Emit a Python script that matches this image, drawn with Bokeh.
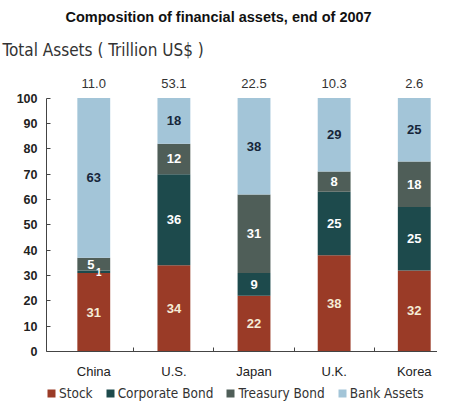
from bokeh.plotting import figure
from bokeh.layouts import column
from bokeh.models import ColumnDataSource, Range1d, FixedTicker, Title, Label, Legend, LegendItem
from bokeh.core.properties import value
from bokeh.embed import file_html
from bokeh.resources import INLINE

countries = ["China", "U.S.", "Japan", "U.K.", "Korea"]
totals = ["11.0", "53.1", "22.5", "10.3", "2.6"]
stock = [31, 34, 22, 38, 32]
corporate_bond = [1, 36, 9, 25, 25]
treasury_bond = [5, 12, 31, 8, 18]
bank_assets = [63, 18, 38, 29, 25]
series_names = ["Stock", "Corporate Bond", "Treasury Bond", "Bank Assets"]
y_ticks = list(range(0, 101, 10))

colors = ["#9a3b27", "#1d4a4c", "#4f5e58", "#a3c5d8"]
label_colors = ["#f5ecd6", "#ffffff", "#ffffff", "#16263a"]
FONT = "Liberation Sans"
NARROW = "DejaVu Sans Condensed"

xs = list(range(len(countries)))
series = [stock, corporate_bond, treasury_bond, bank_assets]

p = figure(width=437, height=381, output_backend="svg", toolbar_location=None,
           x_range=Range1d(-0.59, 4.29), y_range=Range1d(0, 110.9),
           min_border_left=46, min_border_right=0, min_border_top=70, min_border_bottom=27)
p.outline_line_color = None
p.xgrid.grid_line_color = None
p.ygrid.grid_line_color = None
p.background_fill_color = "white"

p.add_layout(Title(text="Total Assets ( Trillion US$ )", align="left", text_font=NARROW,
                   text_font_size="17px", text_font_style="normal", text_color="#333333",
                   offset=-44, standoff=21), "above")
p.add_layout(Title(text="Composition of financial assets, end of 2007", align="left",
                   text_font=FONT, text_font_size="14.5px", text_font_style="bold",
                   text_color="#111111", standoff=6, offset=19), "above")

sources = []
bottoms = [0] * len(countries)
lab_x, lab_y, lab_t, lab_c, lab_off, lab_size = [], [], [], [], [], []
for k, (name, vals) in enumerate(zip(series_names, series)):
    tops = [b + v for b, v in zip(bottoms, vals)]
    src = ColumnDataSource(dict(x=xs, bottom=bottoms, top=tops))
    sources.append(src)
    p.vbar(x="x", bottom="bottom", top="top", width=0.41, source=src,
           fill_color=colors[k], line_color=None)
    for i, v in enumerate(vals):
        lab_x.append(xs[i])
        lab_y.append((bottoms[i] + tops[i]) / 2)
        lab_t.append(str(v))
        lab_c.append(label_colors[k])
        off, size = 0, "13px"
        if countries[i] == "China" and name == "Corporate Bond":
            off, size = 5, "10px"
        if countries[i] == "China" and name == "Treasury Bond":
            off = -3
        lab_off.append(off)
        lab_size.append(size)
    bottoms = tops

lsrc = ColumnDataSource(dict(x=lab_x, y=lab_y, text=lab_t, color=lab_c, off=lab_off, size=lab_size))
p.text(x="x", y="y", text="text", source=lsrc, text_color="color", x_offset="off",
       text_font=value(FONT), text_font_size="size", text_font_style="bold",
       text_align="center", text_baseline="middle")

tsrc = ColumnDataSource(dict(x=xs, y=[105.9] * len(xs), text=totals))
p.text(x="x", y="y", text="text", source=tsrc, text_font=value(FONT), text_font_size="13px",
       text_color="#333333", text_align="center", text_baseline="middle")

p.add_layout(Label(x=-0.865, y=105.9, text="%", text_font=FONT, text_font_size="12px",
                   text_font_style="bold", text_color="#222222", text_align="center",
                   text_baseline="middle"))

p.yaxis.ticker = FixedTicker(ticks=y_ticks, minor_ticks=[])
p.yaxis.bounds = (0, 100)
p.yaxis.major_tick_in = 4
p.yaxis.major_tick_out = 0
p.yaxis.minor_tick_line_color = None
p.yaxis.major_label_text_font = FONT
p.yaxis.major_label_text_font_size = "12.5px"
p.yaxis.major_label_text_font_style = "bold"
p.yaxis.major_label_text_color = "#222222"
p.yaxis.major_label_standoff = 9
p.yaxis.axis_line_color = "#444444"
p.yaxis.major_tick_line_color = "#444444"

p.xaxis.ticker = FixedTicker(ticks=xs, minor_ticks=[0.5, 1.5, 2.5, 3.5])
p.xaxis.major_label_overrides = {i: c for i, c in enumerate(countries)}
p.xaxis.major_tick_in = 0
p.xaxis.major_tick_out = 0
p.xaxis.minor_tick_in = 4
p.xaxis.minor_tick_out = 0
p.xaxis.minor_tick_line_color = "#444444"
p.xaxis.axis_line_color = "#444444"
p.xaxis.major_label_text_font = FONT
p.xaxis.major_label_text_font_size = "13px"
p.xaxis.major_label_text_color = "#222222"
p.xaxis.major_label_standoff = 12

# legend strip below the chart (its glyphs lie outside its visible range)
lf = figure(width=437, height=22, output_backend="svg", toolbar_location=None,
            x_axis_location=None, y_axis_location=None, min_border=0,
            x_range=Range1d(100, 101), y_range=Range1d(0, 1))
lf.outline_line_color = None
lf.xgrid.grid_line_color = None
lf.ygrid.grid_line_color = None
items = []
for name, c, src in zip(series_names, colors, sources):
    r = lf.quad(left="x", right="x", bottom="bottom", top="top", source=src,
                fill_color=c, line_color=None)
    items.append(LegendItem(label=name, renderers=[r]))
legend = Legend(items=items, orientation="horizontal", location=(0, 2),
                label_text_font=NARROW, label_text_font_size="13.5px", label_text_color="#333333",
                glyph_width=10, glyph_height=10, label_standoff=3, spacing=12, label_height=14,
                padding=2, margin=0, border_line_color=None, background_fill_alpha=0)
lf.add_layout(legend)

open("out.html", "w").write(file_html(column(p, lf, spacing=0), INLINE))
